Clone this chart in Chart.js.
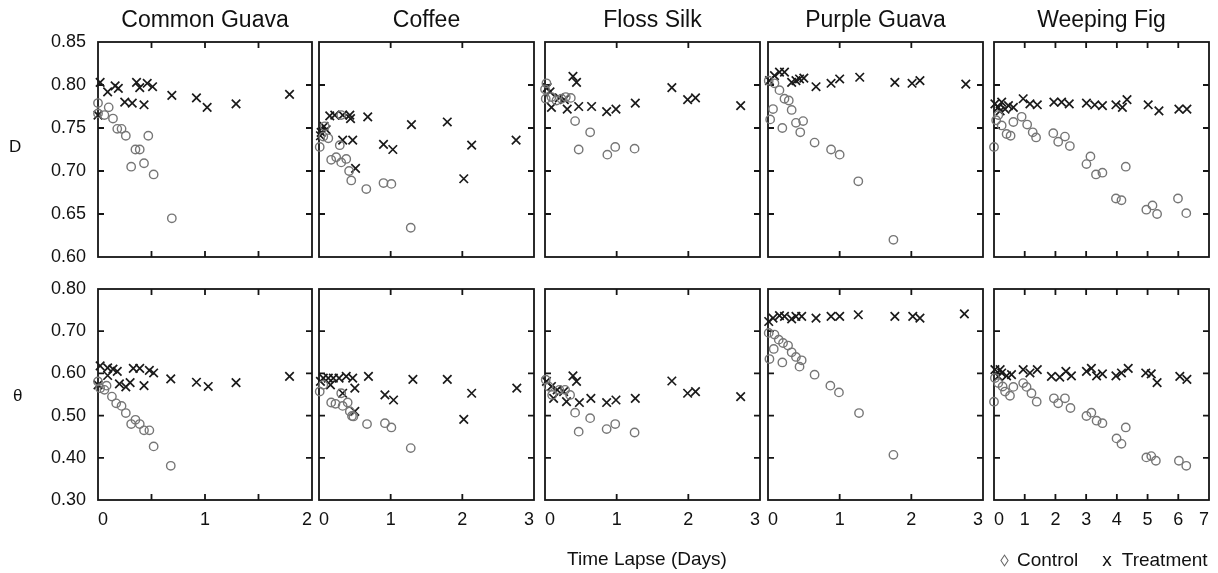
<!DOCTYPE html>
<html>
<head>
<meta charset="utf-8">
<script src="https://cdn.jsdelivr.net/npm/chart.js"></script>
<style>
  body { margin: 0; width: 1218px; height: 573px; overflow: hidden; position: relative; background: #fff;
         font-family: "Liberation Sans", Arial, sans-serif; color: #111; }
  canvas { position: absolute; }
  .txt { position: absolute; white-space: nowrap; z-index: 2; }
  #legend { position: absolute; left: 998px; top: 549px; font-size: 19px; display: flex; align-items: center; z-index: 2; }
  .mk-ctrl { display: inline-block; width: 5px; height: 5px; border: 1.5px solid #666;
             transform: scale(0.85, 1.25) rotate(45deg); margin: 0 9px 0 3px; }
  .mk-trt { margin: 0 10px 0 24px; }
</style>
</head>
<body>
<div class="txt" style="left:9px;top:137px;font-size:17px;">D</div>
<div class="txt" style="left:13px;top:386px;font-size:17px;">θ</div>
<div class="txt" style="left:647px;top:548px;font-size:19px;transform:translateX(-50%);">Time Lapse (Days)</div>
<div id="legend"><span class="mk-ctrl"></span>Control<span class="mk-trt">x</span>Treatment</div>

<script>
// panel names and time ranges
const plants = ["Common Guava", "Coffee", "Floss Silk", "Purple Guava", "Weeping Fig"];
const dayMax = [2, 3, 3, 3, 7];
const dayStep = [0.5, 1, 1, 1, 1];
const dTicks = [0.6, 0.65, 0.7, 0.75, 0.8, 0.85];
const thetaTicks = [0.3, 0.4, 0.5, 0.6, 0.7, 0.8];

// [days, value]
const guavaDCtrl = [[0,0.779],[0,0.767],[0.06,0.765],[0.10,0.774],[0.14,0.761],[0.18,0.749],[0.22,0.749],[0.26,0.741],[0.35,0.725],[0.39,0.725],[0.31,0.705],[0.43,0.709],[0.47,0.741],[0.52,0.696],[0.69,0.645]];
const guavaDTrt = [[0.02,0.803],[0,0.765],[0.09,0.792],[0.16,0.799],[0.19,0.796],[0.25,0.780],[0.32,0.779],[0.36,0.803],[0.39,0.797],[0.43,0.777],[0.46,0.802],[0.51,0.798],[0.69,0.788],[0.92,0.785],[1.02,0.774],[1.29,0.778],[1.79,0.789]];
const guavaTCtrl = [[0,0.581],[0.02,0.565],[0.08,0.571],[0.06,0.561],[0.13,0.545],[0.17,0.529],[0.22,0.523],[0.26,0.506],[0.31,0.480],[0.35,0.490],[0.39,0.480],[0.43,0.465],[0.48,0.465],[0.52,0.427],[0.68,0.381]];
const guavaTTrt = [[0,0.573],[0.02,0.618],[0.09,0.613],[0.14,0.610],[0.18,0.605],[0.09,0.595],[0.20,0.575],[0.26,0.568],[0.30,0.578],[0.33,0.612],[0.39,0.612],[0.43,0.571],[0.48,0.607],[0.52,0.601],[0.68,0.587],[0.92,0.579],[1.03,0.569],[1.29,0.578],[1.79,0.593]];

const coffeeDCtrl = [[0.01,0.728],[0.06,0.740],[0.13,0.738],[0.08,0.752],[0.31,0.765],[0.29,0.730],[0.17,0.713],[0.24,0.716],[0.31,0.710],[0.38,0.714],[0.42,0.700],[0.45,0.689],[0.66,0.679],[0.90,0.686],[1.01,0.685],[1.28,0.634]];
const coffeeDTrt = [[0.02,0.741],[0.03,0.745],[0.07,0.752],[0.10,0.748],[0.15,0.764],[0.22,0.765],[0.33,0.765],[0.43,0.765],[0.44,0.761],[0.33,0.736],[0.47,0.736],[0.51,0.703],[0.68,0.763],[0.90,0.731],[1.03,0.725],[1.29,0.754],[1.79,0.757],[2.02,0.691],[2.13,0.730],[2.75,0.736]];
const coffeeTCtrl = [[0.01,0.557],[0.06,0.573],[0.17,0.531],[0.23,0.528],[0.31,0.553],[0.33,0.523],[0.40,0.531],[0.43,0.510],[0.46,0.499],[0.48,0.498],[0.67,0.480],[0.92,0.482],[1.01,0.472],[1.28,0.423]];
const coffeeTTrt = [[0.02,0.581],[0.06,0.589],[0.13,0.589],[0.20,0.589],[0.28,0.589],[0.38,0.593],[0.47,0.589],[0.16,0.573],[0.50,0.565],[0.33,0.553],[0.50,0.510],[0.69,0.593],[0.92,0.549],[1.04,0.537],[1.31,0.586],[1.79,0.586],[2.02,0.491],[2.13,0.553],[2.76,0.565]];

const flossDCtrl = [[0,0.795],[0.02,0.802],[0.01,0.784],[0.09,0.786],[0.16,0.782],[0.23,0.784],[0.29,0.786],[0.36,0.785],[0.42,0.758],[0.63,0.745],[0.47,0.725],[0.87,0.719],[0.98,0.728],[1.25,0.726]];
const flossDTrt = [[0.03,0.797],[0.07,0.792],[0.09,0.774],[0.20,0.785],[0.27,0.783],[0.31,0.772],[0.39,0.810],[0.44,0.803],[0.47,0.775],[0.65,0.775],[0.86,0.769],[0.99,0.772],[1.26,0.779],[1.77,0.797],[1.99,0.783],[2.10,0.785],[2.73,0.776]];
const flossTCtrl = [[0.01,0.585],[0.05,0.569],[0.10,0.549],[0.20,0.561],[0.28,0.561],[0.35,0.549],[0.42,0.507],[0.63,0.494],[0.47,0.462],[0.86,0.468],[0.98,0.480],[1.25,0.460]];
const flossTTrt = [[0.02,0.581],[0.09,0.569],[0.12,0.541],[0.17,0.561],[0.26,0.557],[0.30,0.533],[0.39,0.594],[0.44,0.581],[0.48,0.531],[0.64,0.541],[0.86,0.531],[0.99,0.537],[1.26,0.541],[1.77,0.582],[1.99,0.553],[2.10,0.557],[2.73,0.545]];

const purpleDCtrl = [[0.01,0.805],[0.09,0.802],[0.16,0.794],[0.23,0.784],[0.29,0.782],[0.33,0.771],[0.07,0.772],[0.03,0.760],[0.20,0.750],[0.39,0.756],[0.49,0.758],[0.45,0.745],[0.65,0.733],[0.88,0.725],[1.00,0.719],[1.26,0.688],[1.75,0.620]];
const purpleDTrt = [[0.02,0.805],[0.09,0.811],[0.16,0.815],[0.23,0.815],[0.33,0.803],[0.39,0.805],[0.44,0.807],[0.50,0.808],[0.67,0.798],[0.88,0.802],[1.00,0.807],[1.28,0.809],[1.77,0.803],[2.01,0.802],[2.12,0.805],[2.76,0.801]];
const purpleTCtrl = [[0.01,0.696],[0.09,0.692],[0.15,0.680],[0.21,0.672],[0.28,0.666],[0.33,0.650],[0.39,0.639],[0.47,0.631],[0.08,0.658],[0.02,0.634],[0.20,0.626],[0.44,0.616],[0.65,0.597],[0.87,0.571],[0.99,0.555],[1.27,0.506],[1.75,0.407]];
const purpleTTrt = [[0.01,0.723],[0.07,0.731],[0.16,0.737],[0.23,0.735],[0.33,0.729],[0.39,0.735],[0.47,0.735],[0.67,0.731],[0.88,0.735],[1.00,0.735],[1.26,0.739],[1.77,0.735],[2.02,0.735],[2.12,0.731],[2.74,0.741]];

const figDCtrl = [[0,0.728],[0.07,0.759],[0.14,0.765],[0.25,0.753],[0.41,0.743],[0.54,0.741],[0.63,0.757],[0.90,0.763],[1.08,0.754],[1.26,0.745],[1.37,0.739],[1.93,0.744],[2.09,0.734],[2.31,0.740],[2.47,0.729],[3.14,0.717],[3.01,0.708],[3.32,0.696],[3.53,0.698],[4.29,0.705],[3.97,0.668],[4.15,0.666],[4.96,0.655],[5.16,0.660],[5.31,0.650],[5.99,0.668],[6.26,0.651]];
const figDTrt = [[0.03,0.778],[0.14,0.774],[0.25,0.780],[0.36,0.772],[0.47,0.776],[0.63,0.774],[0.20,0.770],[0.95,0.784],[1.17,0.778],[1.41,0.777],[1.95,0.780],[2.20,0.780],[2.45,0.778],[3.01,0.779],[3.28,0.777],[3.53,0.776],[3.97,0.777],[4.18,0.774],[4.33,0.783],[5.02,0.777],[5.37,0.770],[6.02,0.772],[6.28,0.772]];
const figTCtrl = [[0,0.533],[0.03,0.589],[0.14,0.577],[0.28,0.569],[0.36,0.557],[0.52,0.547],[0.63,0.568],[0.95,0.577],[1.06,0.568],[1.22,0.553],[1.39,0.533],[1.95,0.541],[2.09,0.529],[2.31,0.541],[2.49,0.518],[3.01,0.499],[3.17,0.507],[3.34,0.488],[3.53,0.482],[3.99,0.446],[4.15,0.433],[4.29,0.472],[4.96,0.401],[5.12,0.404],[5.27,0.393],[6.02,0.393],[6.26,0.381]];
const figTTrt = [[0.03,0.609],[0.14,0.593],[0.25,0.601],[0.41,0.594],[0.57,0.597],[0.20,0.609],[0.95,0.609],[1.17,0.601],[1.41,0.609],[1.87,0.593],[2.14,0.591],[2.34,0.605],[2.52,0.594],[3.01,0.605],[3.17,0.612],[3.34,0.594],[3.53,0.599],[3.97,0.594],[4.15,0.601],[4.37,0.612],[4.94,0.601],[5.12,0.599],[5.31,0.578],[6.05,0.593],[6.28,0.586]];

const dSeries = [[guavaDCtrl, guavaDTrt], [coffeeDCtrl, coffeeDTrt], [flossDCtrl, flossDTrt], [purpleDCtrl, purpleDTrt], [figDCtrl, figDTrt]];
const thetaSeries = [[guavaTCtrl, guavaTTrt], [coffeeTCtrl, coffeeTTrt], [flossTCtrl, flossTTrt], [purpleTCtrl, purpleTTrt], [figTCtrl, figTTrt]];

// plot boxes on the page
const colBox = [[98, 312], [319, 534], [545, 760], [768, 983], [994, 1209]];
const rowBox = [[42, 257], [289, 500]];
const FONT = "'Liberation Sans', Arial, sans-serif";

// box frame with inward tick marks on all four sides
const framePlugin = {
  id: "frame",
  beforeDatasetsDraw(chart) {
    const { ctx, chartArea: a, scales } = chart;
    const sx = scales.x, sy = scales.y;
    ctx.save();
    ctx.strokeStyle = "#151515";
    ctx.lineWidth = 1.8;
    ctx.strokeRect(a.left, a.top, a.right - a.left, a.bottom - a.top);
    ctx.beginPath();
    sx.ticks.forEach((t) => {
      if (t.value <= sx.min + 1e-9 || t.value >= sx.max - 1e-9) return;
      const px = sx.getPixelForValue(t.value);
      ctx.moveTo(px, a.top); ctx.lineTo(px, a.top + 6);
      ctx.moveTo(px, a.bottom); ctx.lineTo(px, a.bottom - 6);
    });
    sy.ticks.forEach((t) => {
      if (t.value <= sy.min + 1e-9 || t.value >= sy.max - 1e-9) return;
      const py = sy.getPixelForValue(t.value);
      ctx.moveTo(a.left, py); ctx.lineTo(a.left + 6, py);
      ctx.moveTo(a.right, py); ctx.lineTo(a.right - 6, py);
    });
    ctx.stroke();
    ctx.restore();
  },
};

plants.forEach((name, c) => {
  [0, 1].forEach((r) => {
    const [bl, br] = colBox[c];
    const [bt, bb] = rowBox[r];
    const left = c === 0 ? 0 : bl - 8;
    const top = r === 0 ? 0 : bt - 8;
    const right = br + 8;
    const bottom = r === 1 ? 540 : bb + 8;
    const yAxisW = c === 0 ? bl - left : 0;
    const xAxisH = r === 1 ? 30 : 0;

    const cv = document.createElement("canvas");
    cv.width = right - left;
    cv.height = bottom - top;
    cv.style.left = left + "px";
    cv.style.top = top + "px";
    document.body.appendChild(cv);

    const ticks = r === 0 ? dTicks : thetaTicks;
    const series = r === 0 ? dSeries[c] : thetaSeries[c];

    new Chart(cv, {
      type: "scatter",
      data: {
        datasets: [
          {
            label: "Control",
            data: series[0],
            pointStyle: "circle",
            pointRadius: 4.2,
            borderWidth: 1.4,
            borderColor: "#767676",
            backgroundColor: "rgba(0,0,0,0)",
            clip: false,
          },
          {
            label: "Treatment",
            data: series[1],
            pointStyle: "crossRot",
            pointRadius: 6,
            borderWidth: 1.7,
            borderColor: "#1a1a1a",
            backgroundColor: "#1a1a1a",
            clip: false,
          },
        ],
      },
      options: {
        responsive: false,
        animation: false,
        devicePixelRatio: 1,
        layout: {
          padding: {
            left: bl - left - yAxisW,
            right: 8,
            top: r === 0 ? 0 : 8,
            bottom: bottom - bb - xAxisH,
          },
        },
        plugins: {
          legend: { display: false },
          tooltip: { enabled: false },
          title: {
            display: r === 0,
            text: name,
            fullSize: false,
            color: "#111",
            font: { family: FONT, size: 23, weight: "normal", lineHeight: 1.2 },
            padding: { top: 7, bottom: 7.4 },
          },
        },
        scales: {
          x: {
            type: "linear",
            min: 0,
            max: dayMax[c],
            grid: { display: false, drawTicks: false },
            border: { display: false },
            ticks: {
              display: r === 1,
              stepSize: dayStep[c],
              autoSkip: false,
              maxRotation: 0,
              align: "inner",
              padding: 9,
              color: "#111",
              font: { family: FONT, size: 18 },
              callback: (v) => (Number.isInteger(v) ? v : ""),
            },
            afterFit: (s) => {
              s.height = xAxisH;
              s.paddingLeft = 0;
              s.paddingRight = 0;
            },
          },
          y: {
            min: ticks[0],
            max: ticks[ticks.length - 1],
            grid: { display: false, drawTicks: false },
            border: { display: false },
            ticks: {
              display: c === 0,
              stepSize: ticks[1] - ticks[0],
              padding: 12,
              color: "#111",
              font: { family: FONT, size: 18 },
              callback: (v) => v.toFixed(2),
            },
            afterFit: (s) => {
              s.width = yAxisW;
              s.paddingTop = 0;
              s.paddingBottom = 0;
            },
          },
        },
      },
      plugins: [framePlugin],
    });
  });
});
</script>
</body>
</html>
